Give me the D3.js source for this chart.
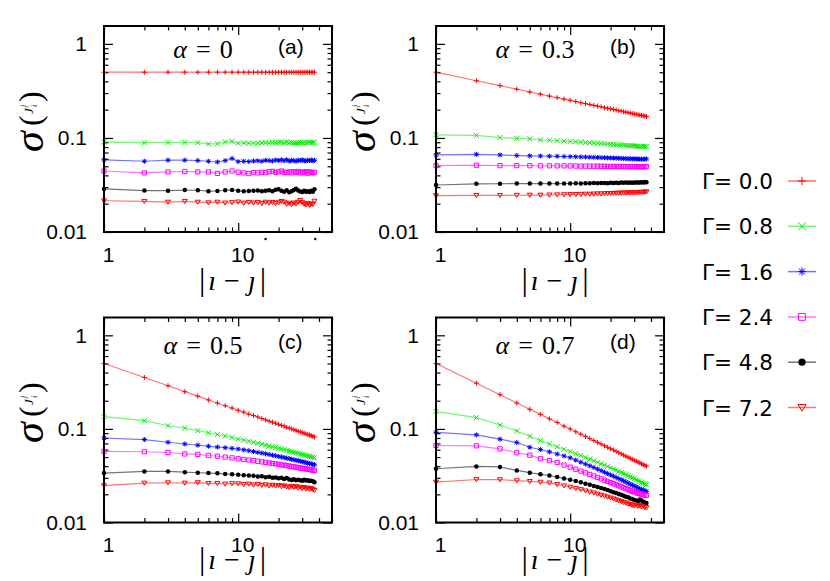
<!DOCTYPE html>
<html><head><meta charset="utf-8">
<script src="https://cdn.jsdelivr.net/npm/d3@7"></script>
<style>body{margin:0;background:#fff}svg{display:block}</style>
</head><body><svg id="c" width="830" height="581"></svg>
<script>
// ---------------- data ----------------
const dist = [1,2,3,4,5,6,7,8,9,10,11,12,13,14,15,16,17,18,19,20,21,22,23,24,25,26,27,28,29,30,31,32,33,34,35,36,37];
const gammaLabels = ["0.0","0.8","1.6","2.4","4.8","7.2"];
const alphaLabels = ["0","0.3","0.5","0.7"];
const panelTags = ["(a)","(b)","(c)","(d)"];
const yTickValues = [0.01,0.1,1];
const xTickValues = [1,10];

// panel (a) alpha = 0
const A00 = [0.50,0.50,0.50,0.50,0.50,0.50,0.50,0.50,0.50,0.50,0.50,0.50,0.50,0.50,0.50,0.50,0.50,0.50,0.50,0.50,0.50,0.50,0.50,0.50,0.50,0.50,0.50,0.50,0.50,0.50,0.50,0.50,0.50,0.50,0.50,0.50,0.50];
const A08 = [0.0905,0.089,0.0895,0.0895,0.0893,0.0865,0.0868,0.0905,0.092,0.0878,0.0885,0.0875,0.088,0.0878,0.0885,0.089,0.0882,0.0895,0.0888,0.0898,0.09,0.089,0.0905,0.0885,0.0895,0.0878,0.0885,0.089,0.0892,0.0885,0.09,0.088,0.0893,0.0898,0.0885,0.089,0.0898];
const A16 = [0.0585,0.0565,0.058,0.058,0.0575,0.0565,0.0555,0.0575,0.0605,0.056,0.0565,0.056,0.0568,0.0572,0.0566,0.0578,0.0575,0.0568,0.0582,0.0575,0.0585,0.0572,0.0588,0.0566,0.058,0.0574,0.0565,0.058,0.0575,0.0585,0.0572,0.0568,0.058,0.0575,0.0585,0.057,0.0578];
const A24 = [0.0445,0.0425,0.0435,0.044,0.0435,0.0435,0.042,0.0435,0.0445,0.0432,0.0425,0.0418,0.0428,0.0425,0.043,0.0428,0.0438,0.0442,0.0432,0.0435,0.0445,0.0432,0.0428,0.0436,0.0425,0.0438,0.0432,0.044,0.0425,0.0435,0.0428,0.0438,0.0422,0.0436,0.043,0.0425,0.0432];
const A48 = [0.0287,0.0276,0.0275,0.0279,0.0278,0.0272,0.0273,0.0278,0.028,0.0275,0.0271,0.0273,0.0274,0.0276,0.0272,0.0274,0.0278,0.0271,0.0282,0.0285,0.0275,0.0268,0.0278,0.0265,0.0272,0.028,0.0288,0.0276,0.027,0.0266,0.0275,0.0268,0.0272,0.0267,0.0275,0.0268,0.0285];
const A72 = [0.0215,0.0212,0.0208,0.0212,0.0208,0.0205,0.0208,0.0204,0.0206,0.0209,0.0203,0.0207,0.0204,0.0206,0.0202,0.0208,0.0204,0.0207,0.0202,0.0205,0.0212,0.0208,0.0198,0.0203,0.0196,0.0204,0.0199,0.0208,0.0217,0.0206,0.0198,0.0195,0.0202,0.0193,0.0199,0.0197,0.0213];

// panel (b) alpha = 0.3
const B00 = [0.500,0.406,0.360,0.330,0.308,0.292,0.279,0.268,0.259,0.251,0.244,0.237,0.232,0.227,0.222,0.218,0.214,0.210,0.207,0.204,0.201,0.198,0.195,0.193,0.190,0.188,0.186,0.184,0.182,0.180,0.178,0.177,0.175,0.174,0.172,0.171,0.169];
const B08 = [0.108,0.1065,0.101,0.099,0.098,0.0955,0.0945,0.0935,0.0925,0.0917,0.091,0.0903,0.0895,0.089,0.0885,0.0878,0.0872,0.0866,0.0862,0.0858,0.0852,0.0849,0.0845,0.0841,0.0838,0.0834,0.083,0.0827,0.0824,0.0822,0.0818,0.0817,0.0814,0.0812,0.081,0.0808,0.081];
const B16 = [0.066,0.067,0.066,0.065,0.0645,0.0643,0.064,0.0638,0.0635,0.0633,0.0631,0.0628,0.0627,0.0624,0.0622,0.0621,0.0618,0.0617,0.0614,0.0613,0.061,0.061,0.0607,0.0606,0.0604,0.0605,0.06,0.0602,0.0598,0.06,0.0596,0.0598,0.0594,0.0597,0.0593,0.0596,0.0598];
const B24 = [0.0508,0.0513,0.0508,0.0508,0.0507,0.0506,0.0506,0.0505,0.0505,0.0504,0.0503,0.0502,0.0502,0.0501,0.05,0.0502,0.0499,0.05,0.0498,0.0497,0.0499,0.0496,0.0497,0.0495,0.0497,0.0494,0.0496,0.0493,0.0495,0.0494,0.0496,0.0493,0.0495,0.0493,0.0494,0.0495,0.0496];
const B48 = [0.0316,0.0325,0.0326,0.0327,0.0327,0.0328,0.0327,0.0328,0.0327,0.0328,0.0329,0.0328,0.033,0.0329,0.0331,0.033,0.0331,0.0332,0.033,0.0333,0.0331,0.0334,0.0332,0.0335,0.0333,0.0335,0.0334,0.0336,0.0334,0.0337,0.0335,0.0337,0.0336,0.0338,0.0336,0.0338,0.0339];
const B72 = [0.0244,0.0245,0.0245,0.0246,0.0247,0.0247,0.0248,0.0249,0.025,0.0251,0.0251,0.0252,0.0253,0.0253,0.0254,0.0255,0.0255,0.0256,0.0257,0.0257,0.0258,0.0259,0.0259,0.026,0.0261,0.026,0.0262,0.0261,0.0263,0.0262,0.0264,0.0263,0.0265,0.0264,0.0266,0.0266,0.0268];

// panel (c) alpha = 0.5
const C00 = [0.500,0.354,0.289,0.250,0.224,0.204,0.189,0.177,0.167,0.158,0.151,0.144,0.139,0.134,0.129,0.125,0.121,0.118,0.115,0.112,0.109,0.107,0.104,0.102,0.100,0.098,0.096,0.094,0.093,0.091,0.090,0.088,0.087,0.086,0.085,0.083,0.082];
const C08 = [0.135,0.1225,0.108,0.102,0.096,0.091,0.087,0.084,0.081,0.078,0.0758,0.0738,0.0719,0.0702,0.0686,0.0671,0.0657,0.0644,0.0632,0.062,0.0609,0.0599,0.0589,0.058,0.0571,0.0563,0.0555,0.0547,0.054,0.0533,0.0526,0.052,0.0514,0.0508,0.0503,0.0498,0.0493];
const C16 = [0.080,0.077,0.072,0.069,0.067,0.0653,0.064,0.063,0.062,0.061,0.0597,0.0585,0.0573,0.0562,0.0552,0.0542,0.0533,0.0524,0.0516,0.0508,0.0501,0.0494,0.0487,0.048,0.0474,0.0468,0.0462,0.0457,0.0451,0.0446,0.0441,0.0436,0.0432,0.0427,0.0423,0.0419,0.0414];
const C24 = [0.0574,0.057,0.056,0.054,0.0535,0.052,0.051,0.050,0.049,0.048,0.0472,0.0465,0.0458,0.0451,0.0445,0.0439,0.0433,0.0428,0.0423,0.0418,0.0413,0.0409,0.0405,0.0401,0.0397,0.0393,0.039,0.0386,0.0383,0.038,0.0377,0.0374,0.0371,0.0368,0.0366,0.0363,0.036];
const C48 = [0.0337,0.0351,0.0351,0.0345,0.034,0.0337,0.0335,0.033,0.0327,0.0324,0.032,0.0318,0.0315,0.031,0.0312,0.0305,0.0308,0.030,0.0302,0.0297,0.030,0.0292,0.0298,0.0288,0.0284,0.029,0.0282,0.0287,0.0283,0.028,0.0286,0.0281,0.0283,0.0278,0.028,0.0276,0.027];
const C72 = [0.0248,0.0264,0.0266,0.0264,0.0267,0.0262,0.0262,0.0258,0.0261,0.026,0.0255,0.0258,0.0252,0.0256,0.025,0.0253,0.0247,0.0251,0.0246,0.0249,0.0243,0.0247,0.0241,0.0236,0.0244,0.0238,0.0242,0.0234,0.0239,0.0231,0.0237,0.0229,0.0234,0.0227,0.0231,0.0225,0.0221];

// panel (d) alpha = 0.7
const D00 = [0.500,0.308,0.232,0.189,0.162,0.143,0.128,0.117,0.107,0.0998,0.0933,0.0879,0.0831,0.0788,0.0751,0.0718,0.0688,0.0661,0.0636,0.0614,0.0594,0.0575,0.0557,0.0541,0.0525,0.0511,0.0498,0.0485,0.0473,0.0462,0.0452,0.0442,0.0433,0.0424,0.0415,0.0407,0.0400];
const D08 = [0.154,0.132,0.110,0.095,0.0835,0.075,0.069,0.0645,0.0607,0.0574,0.0545,0.052,0.0497,0.0476,0.0457,0.044,0.0424,0.041,0.0397,0.0384,0.0373,0.0362,0.0352,0.0342,0.0333,0.0324,0.0316,0.0308,0.0301,0.0294,0.0287,0.028,0.0274,0.0268,0.0263,0.0258,0.0254];
const D16 = [0.092,0.0863,0.0776,0.0715,0.0637,0.0602,0.0568,0.0539,0.0514,0.0491,0.0464,0.0441,0.0421,0.0403,0.0387,0.0372,0.0358,0.0345,0.0333,0.0322,0.0312,0.0303,0.0294,0.0286,0.0278,0.0271,0.0264,0.0257,0.0251,0.0245,0.024,0.0234,0.0229,0.0226,0.0222,0.0218,0.0215];
const D24 = [0.0665,0.066,0.0612,0.0556,0.0524,0.048,0.0458,0.0438,0.0411,0.039,0.0371,0.0354,0.0339,0.0326,0.0314,0.0303,0.0293,0.0283,0.0275,0.0267,0.026,0.0253,0.0247,0.0241,0.0235,0.023,0.0225,0.022,0.0216,0.0212,0.0208,0.0205,0.0203,0.02,0.0198,0.0196,0.0195];
const D48 = [0.0375,0.0397,0.0392,0.036,0.0341,0.0327,0.0318,0.0306,0.0296,0.0287,0.0277,0.0269,0.026,0.0253,0.0246,0.024,0.0233,0.0228,0.0222,0.0216,0.0211,0.0207,0.0202,0.0198,0.0193,0.0189,0.0186,0.0181,0.0178,0.0174,0.0172,0.0169,0.0176,0.0172,0.0167,0.0164,0.0162];
const D72 = [0.027,0.0288,0.0287,0.028,0.0275,0.027,0.0265,0.0255,0.0247,0.0239,0.0231,0.0225,0.0218,0.0212,0.0207,0.0201,0.0196,0.0192,0.0187,0.0183,0.0179,0.0175,0.0171,0.0168,0.0164,0.0162,0.0158,0.0156,0.0153,0.0151,0.0154,0.0149,0.0152,0.0147,0.0149,0.0145,0.0144];

const panelSeries = [
  [A00,A08,A16,A24,A48,A72],
  [B00,B08,B16,B24,B48,B72],
  [C00,C08,C16,C24,C48,C72],
  [D00,D08,D16,D24,D48,D72]
];

// ---------------- style / layout ----------------
const colors = ["#ff0000","#00ee00","#0000ff","#ff00ff","#000000","#ff0000"];
const shapes = ["plus","cross","star","square","dot","tri"];
const W = 228;
const colLeft = [104, 436];
const rowTop = [26, 317.5];
const rowH = [206, 205];
const titleDy = [32, 36];
const tagDy = [28, 31.5];
const xLabelDy = [58, 46.5];
const xLabelOff = [128.5, 119];

const svg = d3.select("#c");
const serif = "'Liberation Serif','Times New Roman',serif";
const sans = "'Liberation Sans',Arial,sans-serif";

function markerPath(shape, s) {
  const h = s/2;
  switch (shape) {
    case "plus": return `M${-h},0H${h}M0,${-h}V${h}`;
    case "cross": return `M${-h},${-h}L${h},${h}M${-h},${h}L${h},${-h}`;
    case "star": return `M${-h},0H${h}M0,${-h}V${h}M${-h*0.75},${-h*0.75}L${h*0.75},${h*0.75}M${-h*0.75},${h*0.75}L${h*0.75},${-h*0.75}`;
    case "square": return `M${-h*0.85},${-h*0.85}H${h*0.85}V${h*0.85}H${-h*0.85}Z`;
    case "tri": return `M${-h},${-h*0.75}H${h}L0,${h*0.9}Z`;
  }
  return "";
}
function drawMarker(g, shape, color, cx, cy, s) {
  if (shape === "dot") {
    g.append("circle").attr("cx",cx).attr("cy",cy).attr("r",s*0.45).attr("fill",color);
  } else {
    g.append("path").attr("d",markerPath(shape,s)).attr("transform",`translate(${cx},${cy})`)
      .attr("fill","none").attr("stroke",color).attr("stroke-width",1);
  }
}

const minorX = [2,3,4,5,6,7,8,9,20,30,40,50];
const minorY = [0.02,0.03,0.04,0.05,0.06,0.07,0.08,0.09,0.2,0.3,0.4,0.5,0.6,0.7,0.8,0.9];

panelSeries.forEach((series, p) => {
  const col = p % 2, row = Math.floor(p / 2);
  const left = colLeft[col], top = rowTop[row], h = rowH[row];
  const x = d3.scaleLog().domain([1,50]).range([left, left+W]);
  const y = d3.scaleLog().domain([0.01,1.55]).range([top+h, top]);
  const g = svg.append("g");

  // axes (ticks inward)
  const styleAxis = sel => { sel.select(".domain").remove(); sel.selectAll("line").attr("stroke","#000").attr("stroke-width",1.2); };
  g.append("g").attr("transform",`translate(0,${top+h})`)
    .call(d3.axisBottom(x).tickValues(xTickValues).tickSize(-9).tickPadding(15).tickFormat(d3.format("d")))
    .call(styleAxis)
    .call(s => s.selectAll("text").attr("font-family",sans).attr("font-size",21).attr("fill","#000").attr("dx",4));
  g.append("g").attr("transform",`translate(0,${top+h})`)
    .call(d3.axisBottom(x).tickValues(minorX).tickSize(-4.5).tickFormat(""))
    .call(styleAxis);
  g.append("g").attr("transform",`translate(0,${top})`)
    .call(d3.axisTop(x).tickValues(xTickValues).tickSize(-9).tickFormat(""))
    .call(styleAxis);
  g.append("g").attr("transform",`translate(0,${top})`)
    .call(d3.axisTop(x).tickValues(minorX).tickSize(-4.5).tickFormat(""))
    .call(styleAxis);
  g.append("g").attr("transform",`translate(${left},0)`)
    .call(d3.axisLeft(y).tickValues(yTickValues).tickSize(-9).tickPadding(17).tickFormat(d => String(d)))
    .call(styleAxis)
    .call(s => s.selectAll("text").attr("font-family",sans).attr("font-size",21).attr("fill","#000"));
  g.append("g").attr("transform",`translate(${left},0)`)
    .call(d3.axisLeft(y).tickValues(minorY).tickSize(-4.5).tickFormat(""))
    .call(styleAxis);
  g.append("g").attr("transform",`translate(${left+W},0)`)
    .call(d3.axisRight(y).tickValues(yTickValues).tickSize(-9).tickFormat(""))
    .call(styleAxis);
  g.append("g").attr("transform",`translate(${left+W},0)`)
    .call(d3.axisRight(y).tickValues(minorY).tickSize(-4.5).tickFormat(""))
    .call(styleAxis);

  // series
  const line = d3.line().x(d => x(d[0])).y(d => y(d[1]));
  series.forEach((vals, k) => {
    const pts = dist.map((d,i) => [d, vals[i]]);
    g.append("path").attr("d", line(pts)).attr("fill","none")
      .attr("stroke", colors[k]).attr("stroke-opacity",0.55).attr("stroke-width",1.2);
    const mg = g.append("g");
    pts.forEach(pt => drawMarker(mg, shapes[k], colors[k], x(pt[0]), y(pt[1]), 5));
  });

  // frame
  g.append("rect").attr("x",left).attr("y",top).attr("width",W).attr("height",h)
    .attr("fill","none").attr("stroke","#000").attr("stroke-width",2);

  // title alpha = ...
  const t = g.append("text").attr("x", left+99).attr("y", top+titleDy[row])
    .attr("text-anchor","middle").attr("font-family",serif).attr("font-size",26).attr("fill","#000");
  t.append("tspan").attr("font-style","italic").text("α");
  t.append("tspan").attr("dx",9).text("=");
  t.append("tspan").attr("dx",9).text(alphaLabels[p]);

  // tag
  g.append("text").attr("x", left+174).attr("y", top+tagDy[row])
    .attr("font-family",sans).attr("font-size",21).attr("fill","#000").text(panelTags[p]);

  // x label |i - j|
  const xl = g.append("text").attr("x", left+xLabelOff[col]).attr("y", top+h+xLabelDy[row])
    .attr("text-anchor","middle").attr("font-family",serif).attr("font-size",28).attr("fill","#000");
  xl.append("tspan").attr("font-size",32).text("|");
  xl.append("tspan").attr("font-style","italic").attr("dx",3).text("ı");
  xl.append("tspan").attr("dx",8).text("−");
  xl.append("tspan").attr("font-style","italic").attr("dx",8).text("ȷ");
  xl.append("tspan").attr("font-size",32).attr("dx",4).text("|");

  // y label sigma^(J_i^j)
  const yl = g.append("g").attr("transform",`translate(${left-61},${top+h/2-3}) rotate(-90)`)
    .attr("font-family",serif).attr("fill","#000");
  yl.append("text").attr("x",-26).attr("y",0).attr("font-size",42).attr("font-style","italic").text("σ");
  yl.append("text").attr("x",0).attr("y",-2).attr("font-size",32).text("(");
  yl.append("text").attr("x",12).attr("y",-10).attr("font-size",13).attr("font-style","italic").text("J");
  yl.append("text").attr("x",19).attr("y",-6).attr("font-size",8).attr("font-style","italic").text("i");
  yl.append("text").attr("x",19).attr("y",-17).attr("font-size",8).attr("font-style","italic").text("j");
  yl.append("text").attr("x",24).attr("y",-2).attr("font-size",32).text(")");

  if (p === 0) {
    // two small stray dots under the axis of panel (a)
    [16, 37.5].forEach(v => g.append("circle").attr("cx", x(v)).attr("cy", top+h+7).attr("r",1.2).attr("fill","#000"));
  }
});

// legend
const leg = svg.append("g");
gammaLabels.forEach((lab, k) => {
  const cy = 181 + k*45.3;
  leg.append("text").attr("x",702).attr("y",cy+8).attr("font-family","'DejaVu Sans',sans-serif")
    .attr("font-size",21.5).attr("fill","#000").text("Γ= " + lab);
  leg.append("line").attr("x1",788).attr("x2",816).attr("y1",cy).attr("y2",cy)
    .attr("stroke",colors[k]).attr("stroke-opacity",0.55).attr("stroke-width",1.5);
  drawMarker(leg, shapes[k], colors[k], 802, cy, 8);
});
</script>
</body></html>
